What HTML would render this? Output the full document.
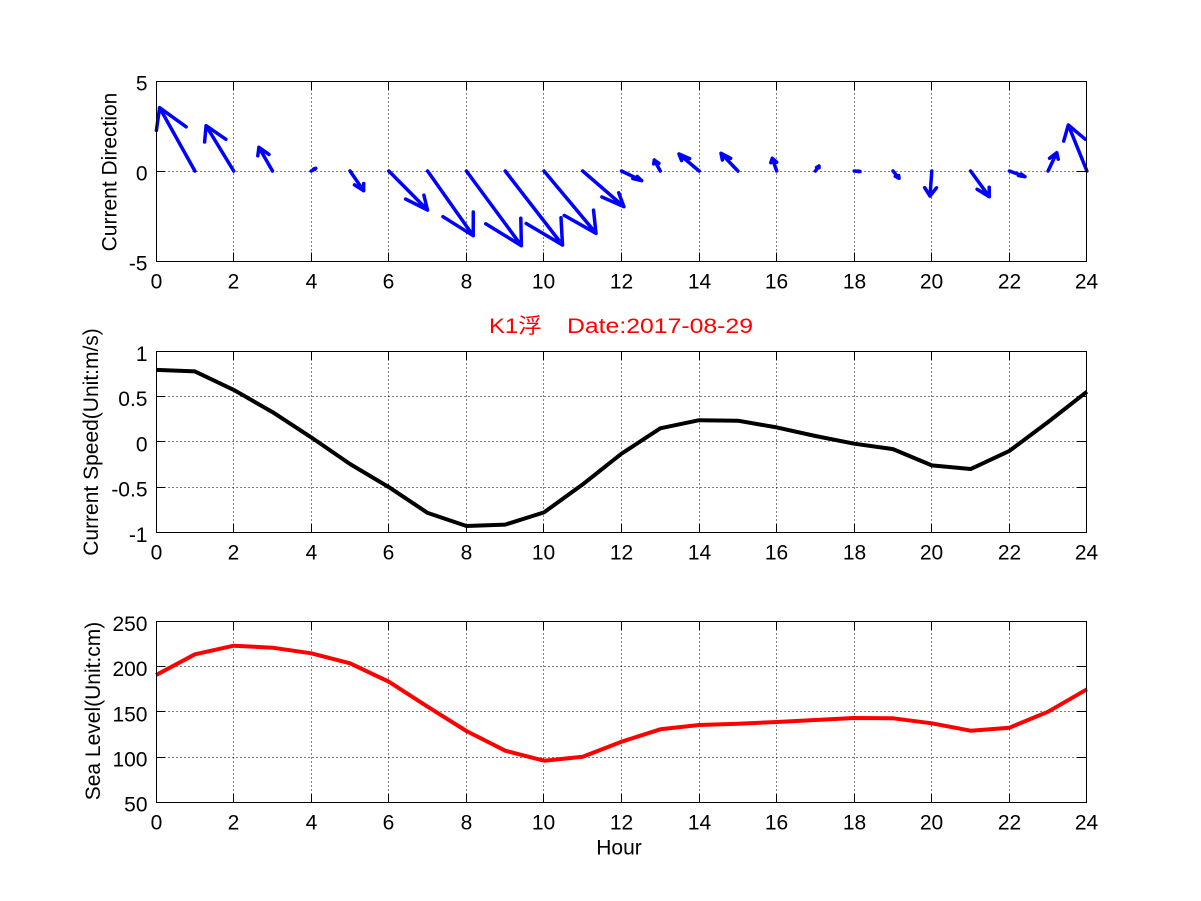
<!DOCTYPE html>
<html>
<head>
<meta charset="utf-8">
<style>
html,body{margin:0;padding:0;background:#fff;}
svg{display:block;}
text{font-family:"Liberation Sans","Noto Sans CJK SC",sans-serif;font-size:21px;fill:#000;}
</style>
</head>
<body>
<svg width="1201" height="901" viewBox="0 0 1201 901" xmlns="http://www.w3.org/2000/svg">
<rect x="0" y="0" width="1201" height="901" fill="#fff"/>

<!-- ============ TOP PLOT: Current Direction ============ -->
<g fill="none" stroke="#000" stroke-width="1" stroke-dasharray="1,3">
  <path d="M233.5 81.5V261.5M311.5 81.5V261.5M388.5 81.5V261.5M466.5 81.5V261.5M543.5 81.5V261.5M621.5 81.5V261.5M699.5 81.5V261.5M776.5 81.5V261.5M854.5 81.5V261.5M931.5 81.5V261.5M1009.5 81.5V261.5"/>
  <path d="M156.5 171.5H1086.5"/>
</g>
<g fill="none" stroke="#00f" stroke-width="3.5" stroke-linejoin="round" stroke-linecap="round">
  <path d="M194.9 171L159.6 107.7M156.4 130.4L159.6 107.7L186.1 126.8"/>
  <path d="M233.7 171L206.1 125.7M204.6 142L206.1 125.7L225.9 139.3"/>
  <path d="M272.5 171L258.9 147.3M257.8 155.8L258.9 147.3L269 154.4"/>
  <path d="M311.3 171L315.7 168.3M313.6 169L315.7 168.3L314.9 169.4"/>
  <path d="M350 171L363.6 190.7M363.7 183.5L363.6 190.7L354.5 184.9"/>
  <path d="M388.8 171L427.5 210M423.9 195.2L427.5 210L405.6 199.1"/>
  <path d="M427.6 171L473.2 235.7M473.3 212L473.2 235.7L443 216.7"/>
  <path d="M466.4 171L521.4 245.7M520.8 218.3L521.4 245.7L485.7 223.8"/>
  <path d="M505.2 171L562.5 245M561 217.7L562.5 245L526.2 223.5"/>
  <path d="M544 171L596 233.3M593.5 210.1L596 233.3L564.2 215.4"/>
  <path d="M582.7 171L623.9 206.7M618.7 192.8L623.9 206.7L601.9 197"/>
  <path d="M621.5 171L641.7 180.7M637.3 176.5L641.7 180.7L632.8 178.5"/>
  <path d="M660.3 171L654.3 160M653.7 163.9L654.3 160L658.9 163.3"/>
  <path d="M699.1 171L679 154M681.6 160.6L679 154L689.6 158.6"/>
  <path d="M737.9 171L721 153.3M722.4 160L721 153.3L730.7 158.3"/>
  <path d="M776.7 171L772.3 158.3M770.8 162.7L772.3 158.3L776.7 162.3"/>
  <path d="M815.4 171L819 166M816.6 167.5L819 166L819 167.8"/>
  <path d="M854.2 171L860 171.5M858.2 171L860 171.5L858 171.6"/>
  <path d="M893 171L899 178.3M898.7 175.6L899 178.3L895.3 176.2"/>
  <path d="M931.8 171L930 196M936.5 187.8L930 196L924.7 187.7"/>
  <path d="M970.6 171L989.3 196.7M989.2 187.3L989.3 196.7L977.1 189.2"/>
  <path d="M1009.4 171L1025 176.7M1021.2 174L1025 176.7L1018.5 175.6"/>
  <path d="M1048.1 171L1056.7 152.7M1049.6 158.3L1056.7 152.7L1058.2 159.2"/>
  <path d="M1086.9 171L1068.3 125M1063.7 141.1L1068.3 125L1085.2 139.2"/>
</g>
<g fill="none" stroke="#000" stroke-width="1">
  <rect x="156.5" y="81.5" width="930" height="180"/>
  <path d="M233.5 261.5v-9M311.5 261.5v-9M388.5 261.5v-9M466.5 261.5v-9M543.5 261.5v-9M621.5 261.5v-9M699.5 261.5v-9M776.5 261.5v-9M854.5 261.5v-9M931.5 261.5v-9M1009.5 261.5v-9"/>
  <path d="M233.5 81.5v9M311.5 81.5v9M388.5 81.5v9M466.5 81.5v9M543.5 81.5v9M621.5 81.5v9M699.5 81.5v9M776.5 81.5v9M854.5 81.5v9M931.5 81.5v9M1009.5 81.5v9"/>
  <path d="M156.5 171.5h9M1086.5 171.5h-9"/>
</g>
<g text-anchor="end">
  <text x="147.5" y="90.5">5</text>
  <text x="147.5" y="180.5">0</text>
  <text x="147.5" y="270.5">-5</text>
</g>
<g text-anchor="middle">
  <text x="156.5" y="288.5">0</text>
  <text x="233.5" y="288.5">2</text>
  <text x="311.5" y="288.5">4</text>
  <text x="388.5" y="288.5">6</text>
  <text x="466.5" y="288.5">8</text>
  <text x="543.5" y="288.5">10</text>
  <text x="621.5" y="288.5">12</text>
  <text x="699.5" y="288.5">14</text>
  <text x="776.5" y="288.5">16</text>
  <text x="854.5" y="288.5">18</text>
  <text x="931.5" y="288.5">20</text>
  <text x="1009.5" y="288.5">22</text>
  <text x="1086.5" y="288.5">24</text>
</g>
<text transform="translate(116.5,172) rotate(-90)" text-anchor="middle">Current Direction</text>

<!-- ============ TITLE ============ -->
<text x="489" y="333" fill="#f00" style="fill:#f00" textLength="53" lengthAdjust="spacingAndGlyphs">K1浮</text>
<text x="567" y="333" fill="#f00" style="fill:#f00" textLength="186" lengthAdjust="spacingAndGlyphs">Date:2017-08-29</text>

<!-- ============ MIDDLE PLOT: Current Speed ============ -->
<g fill="none" stroke="#000" stroke-width="1" stroke-dasharray="1,3">
  <path d="M233.5 351.5V532.5M311.5 351.5V532.5M388.5 351.5V532.5M466.5 351.5V532.5M543.5 351.5V532.5M621.5 351.5V532.5M699.5 351.5V532.5M776.5 351.5V532.5M854.5 351.5V532.5M931.5 351.5V532.5M1009.5 351.5V532.5"/>
  <path d="M156.5 396.5H1086.5M156.5 441.5H1086.5M156.5 487.5H1086.5"/>
</g>
<polyline fill="none" stroke="#000" stroke-width="4" stroke-linejoin="round" points="156.1,369.9 194.9,371.4 233.7,389.9 272.5,412.1 311.3,437.4 350.0,464.0 388.8,487.1 427.6,512.9 466.4,526.0 505.2,524.6 544.0,512.4 582.7,484.4 621.5,453.7 660.3,428.3 699.1,420.2 737.9,420.7 776.7,427.4 815.4,436.0 854.2,443.7 893.0,449.1 931.8,465.4 970.6,469.0 1009.4,450.9 1048.1,422.0 1086.9,391.7"/>
<g fill="none" stroke="#000" stroke-width="1">
  <rect x="156.5" y="351.5" width="930" height="181"/>
  <path d="M233.5 532.5v-9M311.5 532.5v-9M388.5 532.5v-9M466.5 532.5v-9M543.5 532.5v-9M621.5 532.5v-9M699.5 532.5v-9M776.5 532.5v-9M854.5 532.5v-9M931.5 532.5v-9M1009.5 532.5v-9"/>
  <path d="M233.5 351.5v9M311.5 351.5v9M388.5 351.5v9M466.5 351.5v9M543.5 351.5v9M621.5 351.5v9M699.5 351.5v9M776.5 351.5v9M854.5 351.5v9M931.5 351.5v9M1009.5 351.5v9"/>
  <path d="M156.5 396.5h9M1086.5 396.5h-9M156.5 441.5h9M1086.5 441.5h-9M156.5 487.5h9M1086.5 487.5h-9"/>
</g>
<g text-anchor="end">
  <text x="147.5" y="361">1</text>
  <text x="147.5" y="406.2">0.5</text>
  <text x="147.5" y="451.4">0</text>
  <text x="147.5" y="496.6">-0.5</text>
  <text x="147.5" y="541.8">-1</text>
</g>
<g text-anchor="middle">
  <text x="156.5" y="559.5">0</text>
  <text x="233.5" y="559.5">2</text>
  <text x="311.5" y="559.5">4</text>
  <text x="388.5" y="559.5">6</text>
  <text x="466.5" y="559.5">8</text>
  <text x="543.5" y="559.5">10</text>
  <text x="621.5" y="559.5">12</text>
  <text x="699.5" y="559.5">14</text>
  <text x="776.5" y="559.5">16</text>
  <text x="854.5" y="559.5">18</text>
  <text x="931.5" y="559.5">20</text>
  <text x="1009.5" y="559.5">22</text>
  <text x="1086.5" y="559.5">24</text>
</g>
<text transform="translate(98,442) rotate(-90)" text-anchor="middle">Current Speed(Unit:m/s)</text>

<!-- ============ BOTTOM PLOT: Sea Level ============ -->
<g fill="none" stroke="#000" stroke-width="1" stroke-dasharray="1,3">
  <path d="M233.5 621.5V802.5M311.5 621.5V802.5M388.5 621.5V802.5M466.5 621.5V802.5M543.5 621.5V802.5M621.5 621.5V802.5M699.5 621.5V802.5M776.5 621.5V802.5M854.5 621.5V802.5M931.5 621.5V802.5M1009.5 621.5V802.5"/>
  <path d="M156.5 666.5H1086.5M156.5 711.5H1086.5M156.5 757.5H1086.5"/>
</g>
<polyline fill="none" stroke="#f00" stroke-width="4" stroke-linejoin="round" points="156.1,675 194.9,654.3 233.7,645.7 272.5,647.7 311.3,653.3 350.0,663.3 388.8,681.7 427.6,706.7 466.4,731 505.2,750.7 544.0,760.7 582.7,756.7 621.5,741.7 660.3,729.3 699.1,725 737.9,723.7 776.7,722 815.4,720 854.2,718 893.0,718.3 931.8,723.3 970.6,730.7 1009.4,727.7 1048.1,711.7 1086.9,689.3"/>
<g fill="none" stroke="#000" stroke-width="1">
  <rect x="156.5" y="621.5" width="930" height="181"/>
  <path d="M233.5 802.5v-9M311.5 802.5v-9M388.5 802.5v-9M466.5 802.5v-9M543.5 802.5v-9M621.5 802.5v-9M699.5 802.5v-9M776.5 802.5v-9M854.5 802.5v-9M931.5 802.5v-9M1009.5 802.5v-9"/>
  <path d="M233.5 621.5v9M311.5 621.5v9M388.5 621.5v9M466.5 621.5v9M543.5 621.5v9M621.5 621.5v9M699.5 621.5v9M776.5 621.5v9M854.5 621.5v9M931.5 621.5v9M1009.5 621.5v9"/>
  <path d="M156.5 666.5h9M1086.5 666.5h-9M156.5 711.5h9M1086.5 711.5h-9M156.5 757.5h9M1086.5 757.5h-9"/>
</g>
<g text-anchor="end">
  <text x="147.5" y="631">250</text>
  <text x="147.5" y="676.1">200</text>
  <text x="147.5" y="721.3">150</text>
  <text x="147.5" y="766.4">100</text>
  <text x="147.5" y="811.5">50</text>
</g>
<g text-anchor="middle">
  <text x="156.5" y="829.5">0</text>
  <text x="233.5" y="829.5">2</text>
  <text x="311.5" y="829.5">4</text>
  <text x="388.5" y="829.5">6</text>
  <text x="466.5" y="829.5">8</text>
  <text x="543.5" y="829.5">10</text>
  <text x="621.5" y="829.5">12</text>
  <text x="699.5" y="829.5">14</text>
  <text x="776.5" y="829.5">16</text>
  <text x="854.5" y="829.5">18</text>
  <text x="931.5" y="829.5">20</text>
  <text x="1009.5" y="829.5">22</text>
  <text x="1086.5" y="829.5">24</text>
  <text x="619" y="854.5">Hour</text>
</g>
<text transform="translate(100,711) rotate(-90)" text-anchor="middle">Sea Level(Unit:cm)</text>
</svg>
</body>
</html>
